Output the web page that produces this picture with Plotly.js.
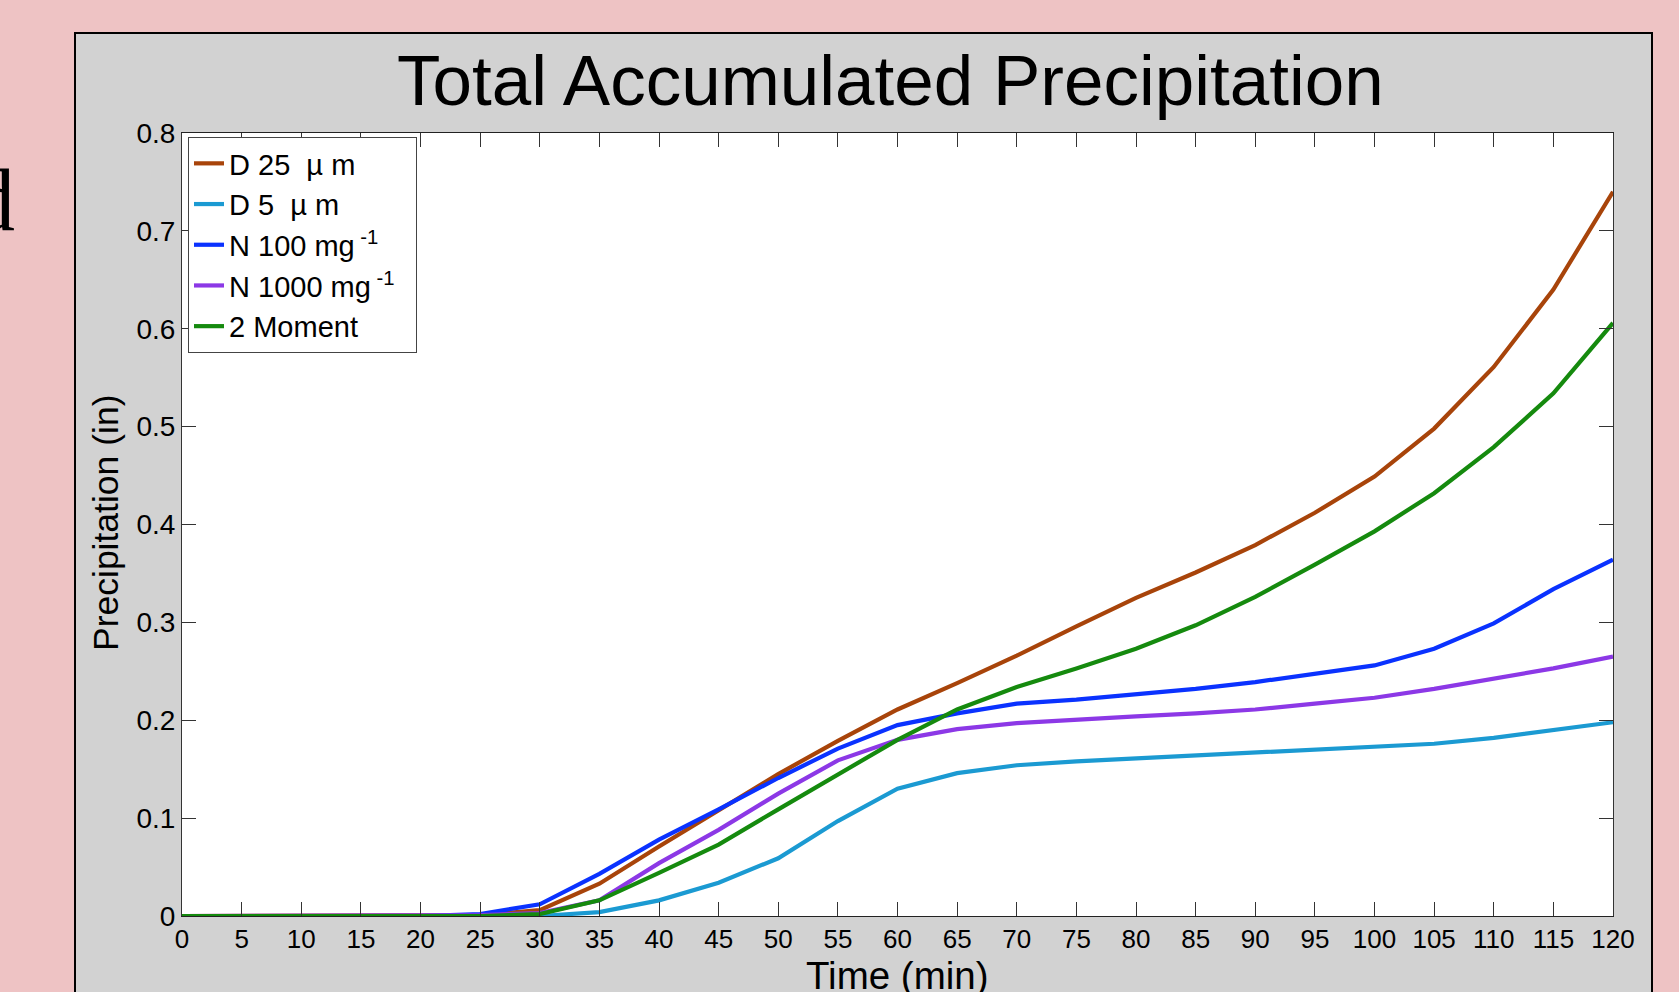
<!DOCTYPE html>
<html>
<head>
<meta charset="utf-8">
<script src="https://cdn.plot.ly/plotly-3.0.1.min.js"></script>
<style>
html,body{margin:0;padding:0;background:#EEC3C4;}
#chart{width:1679px;height:992px;}
</style>
</head>
<body>
<div id="chart"></div>
<script>
// time axis (minutes)
const timeMin = [0,5,10,15,20,25,30,35,40,45,50,55,60,65,70,75,80,85,90,95,100,105,110,115,120];
// series values (inches)
const d25 = [0,0,0,0,0,0.001,0.006,0.033,0.071,0.108,0.145,0.179,0.211,0.238,0.266,0.296,0.325,0.351,0.379,0.412,0.449,0.498,0.561,0.640,0.740];
const d5 = [0,0,0,0,0,0,0,0.004,0.016,0.034,0.059,0.097,0.130,0.146,0.154,0.158,0.161,0.164,0.166,0.169,0.172,0.176,0.182,0.190,0.198];
const n100 = [0,0,0,0,0,0.002,0.012,0.043,0.078,0.109,0.141,0.171,0.195,0.207,0.217,0.221,0.226,0.232,0.239,0.247,0.256,0.273,0.299,0.334,0.364];
const n1000 = [0,0,0,0,0,0.001,0.003,0.016,0.054,0.088,0.125,0.159,0.180,0.191,0.197,0.201,0.204,0.207,0.211,0.217,0.223,0.232,0.242,0.253,0.265];
const twoMoment = [0,0,0,0,0,0,0.002,0.016,0.044,0.073,0.109,0.145,0.180,0.211,0.234,0.253,0.273,0.297,0.326,0.359,0.393,0.432,0.479,0.534,0.606];
const seriesNames = ["D 25  \u00b5 m","D 5  \u00b5 m","N 100 mg<sup> -1</sup>","N 1000 mg<sup> -1</sup>\u00a0\u00a0","2 Moment"];
const seriesColors = ["#A8440A","#1B9AD2","#0A32FF","#8C38E6","#158A0E"];
const seriesData = [d25, d5, n100, n1000, twoMoment];
const xTitle = 'Time (min)';
const yTitle = 'Precipitation (in)';
const chartTitle = 'Total Accumulated Precipitation';

const FONT = '"Liberation Sans", Arial, Helvetica, sans-serif';

const traces = seriesData.map((ys, i) => ({
  type: 'scatter', mode: 'lines',
  x: timeMin, y: ys,
  name: seriesNames[i],
  line: {color: seriesColors[i], width: 4.2}
}));

// pixel helpers for paper coords
const L = 182, R = 1613, T = 133, B = 916;
const px = v => (v - L) / (R - L);
const py = v => (B - v) / (B - T);

const layout = {
  width: 1679, height: 992,
  margin: {l: L, r: 1679 - R, t: T, b: 992 - B, pad: 0},
  paper_bgcolor: '#EEC3C4',
  plot_bgcolor: 'rgba(0,0,0,0)',
  font: {family: FONT, color: '#000'},
  showlegend: true,
  title: {
    text: chartTitle,
    font: {family: FONT, size: 71, color: '#000'},
    xref: 'paper', x: 0.495, xanchor: 'center',
    yref: 'container', y: 1 - 80/992, yanchor: 'middle'
  },
  xaxis: {
    range: [0, 120], tickmode: 'linear', tick0: 0, dtick: 5,
    ticks: 'inside', ticklen: 14, tickwidth: 1, tickcolor: '#333',
    showline: true, linecolor: '#222', linewidth: 1, mirror: 'ticks',
    showgrid: false, zeroline: false,
    tickfont: {family: FONT, size: 26, color: '#000'}
  },
  yaxis: {
    range: [0, 0.8], tickmode: 'linear', tick0: 0, dtick: 0.1,
    ticks: 'inside', ticklen: 14, tickwidth: 1, tickcolor: '#333',
    showline: true, linecolor: '#333', linewidth: 1, mirror: 'ticks',
    showgrid: false, zeroline: false,
    tickfont: {family: FONT, size: 28, color: '#000'}
  },
  legend: {
    x: px(188), y: py(137), xanchor: 'left', yanchor: 'top',
    bgcolor: '#FFFFFF', bordercolor: '#444', borderwidth: 1,
    font: {family: FONT, size: 29, color: '#000'},
    tracegroupgap: 0, itemwidth: 30
  },
  shapes: [
    {type: 'rect', xref: 'paper', yref: 'paper', layer: 'below',
     x0: px(75), x1: px(1652), y0: py(1010), y1: py(33),
     fillcolor: '#D2D2D2', line: {color: '#000', width: 2}},
    {type: 'rect', xref: 'paper', yref: 'paper', layer: 'below',
     x0: 0, x1: 1, y0: 0, y1: 1,
     fillcolor: '#FFFFFF', line: {width: 0}}
  ],
  annotations: [
    {text: xTitle, showarrow: false,
     xref: 'paper', yref: 'paper', x: 0.5, y: py(975),
     xanchor: 'center', yanchor: 'middle',
     font: {family: FONT, size: 38.5, color: '#000'}},
    {text: yTitle, textangle: -90, showarrow: false,
     xref: 'paper', yref: 'paper', x: px(106), y: py(523),
     xanchor: 'center', yanchor: 'middle',
     font: {family: FONT, size: 35.5, color: '#000'}},
    {text: 'd', showarrow: false, xref: 'paper', yref: 'paper',
     x: px(17), y: py(200), xanchor: 'right', yanchor: 'middle',
     font: {family: '"Liberation Serif", "Times New Roman", serif', size: 88, color: '#000'}}
  ]
};

Plotly.newPlot('chart', traces, layout, {displayModeBar: false, staticPlot: true});
</script>
</body>
</html>
